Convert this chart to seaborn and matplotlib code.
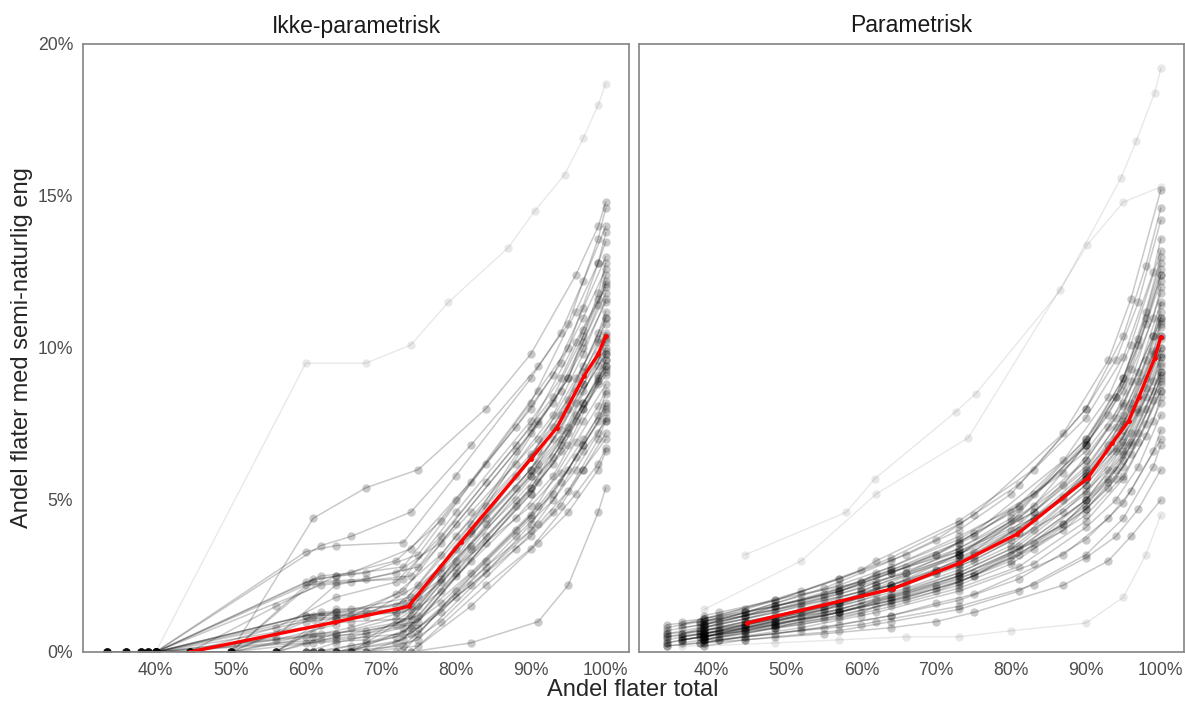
import numpy as np
import pandas as pd
import matplotlib
matplotlib.use('Agg')
import matplotlib.pyplot as plt
from matplotlib.ticker import PercentFormatter
import seaborn as sns

# --- Ikke-parametrisk: simulerte kurver (x = andel flater total, y = andel semi-naturlig eng, i %)
ikke_x_a = [38, 40, 60, 64, 73, 80, 90, 94, 97, 100]
ikke_y_a = [[0, 0, 1.2, 1.3, 1.6, 3.8, 6.5, 7.8, 9.2, 10.5],
            [0, 0, 0, 0, 0.4, 2.5, 5.2, 6.6, 8.0, 9.4],
            [0, 0, 2.3, 2.5, 2.8, 5.0, 8.0, 9.5, 11.0, 12.6],
            [0, 0, 0.5, 0.6, 1.0, 3.0, 5.8, 7.0, 8.6, 9.8],
            [0, 0, 0, 0.3, 0.8, 2.8, 4.8, 5.9, 7.0, 8.1],
            [0, 0, 3.3, 3.5, 3.6, 5.8, 9.0, 10.5, 12.2, 14.0],
            [0, 0, 0, 0, 0.2, 1.8, 3.8, 4.8, 6.0, 7.0],
            [0, 0, 1.0, 1.1, 2.0, 4.2, 7.2, 8.6, 10.0, 11.5],
            [0, 0, 0, 0, 0, 2.0, 4.4, 5.6, 6.8, 7.9],
            [0, 0, 1.2, 1.3, 1.4, 3.4, 6.0, 7.3, 8.8, 10.0],
            [0, 0, 2.2, 2.3, 2.4, 4.6, 7.6, 9.0, 10.6, 12.0],
            [0, 0, 0.3, 0.4, 0.6, 2.6, 5.4, 6.8, 8.2, 9.2]]

ikke_x_b = [33.5, 40, 62, 66, 74, 82, 91, 95, 99, 100]
ikke_y_b = [[0, 0, 2.2, 2.3, 2.5, 4.6, 7.0, 8.3, 10.5, 11.2],
            [0, 0, 0, 0, 1.2, 3.5, 6.2, 7.4, 9.6, 10.3],
            [0, 0, 0.6, 0.8, 1.4, 4.0, 7.5, 9.0, 11.8, 12.8],
            [0, 0, 0, 0, 0, 1.5, 3.6, 4.6, 6.0, 6.6],
            [0, 0, 1.3, 1.4, 1.8, 3.9, 6.6, 8.0, 10.2, 11.0],
            [0, 0, 3.5, 3.8, 4.6, 6.8, 9.4, 10.8, 13.6, 14.6],
            [0, 0, 0, 0.2, 0.6, 2.2, 4.2, 5.3, 7.0, 7.6],
            [0, 0, 0.9, 1.0, 1.1, 3.4, 6.0, 7.2, 9.1, 9.8],
            [0, 0, 0, 0, 0, 0.3, 1.0, 2.2, 4.6, 5.4],
            [0, 0, 1.2, 1.2, 1.5, 4.2, 7.6, 9.0, 11.4, 12.2],
            [0, 0, 0, 0, 0.8, 3.0, 5.6, 6.8, 8.9, 9.6],
            [0, 0, 2.5, 2.6, 3.4, 5.6, 8.6, 10.0, 12.8, 13.8],
            [0, 0, 0.4, 0.5, 0.9, 2.6, 4.8, 6.0, 7.8, 8.5]]

ikke_x_c = [36, 44.5, 56, 64, 72, 78, 88, 93, 97, 100]
ikke_y_c = [[0, 0, 0, 1.4, 1.5, 2.8, 5.4, 7.0, 8.8, 10.2],
            [0, 0, 0.4, 0.9, 1.9, 3.2, 6.2, 7.8, 9.8, 11.6],
            [0, 0, 0, 0, 0, 1.0, 3.4, 4.6, 6.0, 7.2],
            [0, 0, 1.5, 2.5, 3.0, 4.3, 7.4, 9.1, 11.3, 13.0],
            [0, 0, 0, 0.5, 0.9, 2.0, 4.4, 5.8, 7.6, 8.8],
            [0, 0, 0, 1.1, 1.3, 2.6, 5.0, 6.4, 8.2, 9.4],
            [0, 0, 0.8, 1.8, 2.3, 3.8, 6.8, 8.4, 10.4, 12.1],
            [0, 0, 0, 0, 0.5, 1.6, 4.0, 5.2, 6.8, 8.0],
            [0, 0, 0, 1.2, 1.3, 2.4, 5.8, 7.4, 9.4, 11.0],
            [0, 0, 0, 0, 0.3, 1.3, 3.8, 5.0, 6.6, 7.6],
            [0, 0, 0.5, 2.2, 2.6, 3.6, 6.6, 8.2, 10.2, 11.8],
            [0, 0, 0, 0.6, 1.1, 2.3, 4.8, 6.2, 8.0, 9.1]]

ikke_x_d = [39, 50, 61, 68, 75, 84, 90, 96, 99, 100]
ikke_y_d = [[0, 0, 1.1, 1.2, 2.2, 4.8, 6.4, 9.0, 10.3, 10.8],
            [0, 0, 0, 0, 0.6, 3.0, 4.5, 6.9, 8.1, 8.6],
            [0, 0, 2.4, 2.6, 3.2, 6.2, 8.2, 11.2, 12.8, 13.5],
            [0, 0, 0.3, 0.4, 1.5, 4.2, 5.8, 8.2, 9.4, 9.9],
            [0, 0, 0, 0, 0.2, 2.2, 3.4, 5.2, 6.2, 6.7],
            [0, 0, 4.4, 5.4, 6.0, 8.0, 9.8, 12.4, 14.0, 14.8],
            [0, 0, 0.6, 0.7, 1.0, 3.6, 5.2, 7.6, 8.8, 9.3],
            [0, 0, 0, 0.3, 0.8, 2.8, 4.0, 6.0, 7.2, 7.7],
            [0, 0, 1.2, 1.3, 1.8, 4.4, 6.0, 8.6, 9.8, 10.4],
            [0, 0, 0, 0, 0.4, 2.6, 4.2, 6.4, 7.6, 8.2],
            [0, 0, 2.3, 2.4, 2.8, 5.6, 7.4, 10.2, 11.6, 12.4],
            [0, 0, 0.5, 0.6, 1.2, 3.8, 5.4, 7.8, 9.0, 9.6]]

ikke_x_top = [40, 60, 68, 74, 79, 87, 90.5, 94.5, 97, 99, 100]
ikke_y_top = [[0, 9.5, 9.5, 10.1, 11.5, 13.3, 14.5, 15.7, 16.9, 18.0, 18.7]]

# --- Parametrisk: simulerte kurver
par_x_a = [39, 44.5, 48.5, 57, 64, 73, 81, 90, 95, 99, 100]
par_y_a = [[0.5, 0.8, 1.0, 1.4, 1.9, 2.6, 3.5, 5.2, 6.8, 8.9, 9.7],
           [0.8, 1.2, 1.5, 2.1, 2.7, 3.6, 4.7, 6.8, 8.6, 11.0, 12.0],
           [0.3, 0.5, 0.6, 0.9, 1.2, 1.7, 2.4, 3.7, 4.9, 6.6, 7.3],
           [1.0, 1.4, 1.7, 2.4, 3.1, 4.2, 5.5, 7.7, 9.7, 12.5, 13.6],
           [0.6, 0.9, 1.1, 1.6, 2.1, 2.9, 3.9, 5.8, 7.5, 9.8, 10.7],
           [0.4, 0.6, 0.8, 1.1, 1.5, 2.1, 2.8, 4.3, 5.7, 7.6, 8.4],
           [0.9, 1.3, 1.6, 2.2, 2.8, 3.8, 4.8, 6.6, 8.2, 10.4, 11.2],
           [0.2, 0.4, 0.5, 0.7, 1.0, 1.4, 2.0, 3.2, 4.4, 6.1, 6.8],
           [0.7, 1.0, 1.2, 1.7, 2.2, 3.0, 4.0, 5.9, 7.6, 9.9, 10.9],
           [0.5, 0.7, 0.9, 1.3, 1.8, 2.5, 3.4, 5.0, 6.6, 8.6, 9.4],
           [0.9, 1.2, 1.5, 2.0, 2.6, 3.4, 4.4, 6.3, 8.1, 10.4, 11.4],
           [0.4, 0.7, 0.9, 1.3, 1.7, 2.4, 3.2, 4.8, 6.3, 8.3, 9.1]]

par_x_b = [39, 41, 52, 60, 62, 73, 83, 90, 94, 97, 100]
par_y_b = [[0.5, 0.6, 1.1, 1.5, 1.7, 2.5, 3.6, 5.0, 6.0, 7.2, 9.0],
           [0.7, 0.8, 1.4, 2.0, 2.2, 3.2, 4.6, 6.3, 7.7, 9.2, 11.5],
           [1.1, 1.2, 2.0, 2.7, 3.0, 4.3, 6.0, 8.0, 9.6, 11.5, 14.2],
           [0.3, 0.4, 0.8, 1.2, 1.3, 2.0, 2.9, 4.1, 5.0, 6.1, 7.8],
           [0.8, 0.9, 1.5, 2.0, 2.2, 3.1, 4.3, 5.8, 7.0, 8.4, 10.4],
           [0.6, 0.7, 1.3, 1.9, 2.1, 3.2, 4.8, 6.8, 8.4, 10.3, 12.8],
           [0.4, 0.4, 0.7, 0.9, 1.0, 1.5, 2.2, 3.1, 3.8, 4.7, 6.0],
           [1.2, 1.3, 1.9, 2.3, 2.5, 3.3, 4.4, 5.7, 6.7, 7.9, 9.8],
           [0.6, 0.7, 1.2, 1.7, 1.9, 2.8, 4.0, 5.5, 6.6, 8.0, 10.0],
           [0.9, 1.0, 1.6, 2.1, 2.3, 3.3, 4.6, 6.1, 7.4, 8.9, 11.0],
           [0.4, 0.5, 0.9, 1.3, 1.5, 2.3, 3.4, 4.7, 5.7, 6.9, 8.6],
           [1.0, 1.1, 1.7, 2.3, 2.6, 3.7, 5.2, 7.0, 8.4, 10.1, 12.4]]

par_x_c = [34, 38.5, 44.5, 55, 64, 70, 75, 87, 93, 96, 100]
par_y_c = [[0.4, 0.6, 0.9, 1.4, 2.1, 2.6, 3.1, 5.1, 6.8, 8.2, 10.8],
           [0.5, 0.6, 0.8, 1.2, 1.7, 2.1, 2.5, 4.0, 5.4, 6.5, 8.6],
           [0.6, 0.8, 1.1, 1.8, 2.6, 3.2, 3.9, 6.3, 8.4, 10.1, 13.2],
           [0.3, 0.5, 0.8, 1.4, 2.1, 2.7, 3.3, 5.5, 7.4, 8.9, 11.8],
           [0.2, 0.3, 0.5, 0.8, 1.2, 1.6, 1.9, 3.2, 4.4, 5.3, 7.0],
           [0.9, 1.0, 1.2, 1.7, 2.2, 2.6, 3.0, 4.6, 6.0, 7.2, 9.5],
           [0.7, 0.9, 1.3, 2.1, 3.0, 3.7, 4.5, 7.2, 9.6, 11.6, 15.2],
           [0.2, 0.3, 0.4, 0.6, 0.8, 1.0, 1.3, 2.2, 3.0, 3.8, 5.0],
           [0.5, 0.7, 1.0, 1.5, 2.2, 2.7, 3.2, 5.0, 6.6, 8.0, 10.4],
           [0.3, 0.5, 0.7, 1.1, 1.6, 2.0, 2.5, 4.2, 5.7, 6.9, 9.2],
           [0.8, 1.0, 1.3, 1.9, 2.7, 3.2, 3.8, 5.9, 7.8, 9.3, 12.2],
           [0.6, 0.7, 0.9, 1.3, 1.8, 2.2, 2.6, 4.2, 5.6, 6.8, 8.9]]

par_x_d = [36, 39, 48.5, 57, 66, 73, 80, 90, 95, 98, 100]
par_y_d = [[0.5, 0.6, 1.0, 1.5, 2.1, 2.7, 3.5, 5.5, 7.1, 8.7, 10.0],
           [0.6, 0.8, 1.3, 1.9, 2.6, 3.4, 4.4, 6.8, 8.8, 10.8, 12.4],
           [0.4, 0.5, 0.8, 1.2, 1.7, 2.2, 2.9, 4.5, 5.8, 7.1, 8.2],
           [0.9, 1.1, 1.5, 2.0, 2.6, 3.2, 4.0, 6.0, 7.8, 9.6, 11.0],
           [0.3, 0.4, 0.8, 1.3, 1.9, 2.5, 3.2, 5.0, 6.5, 8.0, 9.2],
           [1.0, 1.1, 1.7, 2.4, 3.2, 4.0, 5.2, 8.0, 10.4, 12.7, 14.6],
           [0.4, 0.5, 1.0, 1.6, 2.4, 3.2, 4.3, 6.9, 9.0, 11.2, 13.0],
           [0.6, 0.7, 1.1, 1.6, 2.2, 2.9, 3.7, 5.7, 7.3, 9.0, 10.3],
           [0.4, 0.5, 0.9, 1.4, 2.0, 2.6, 3.4, 5.3, 6.9, 8.4, 9.7],
           [0.8, 0.9, 1.4, 2.0, 2.8, 3.6, 4.6, 7.0, 9.0, 11.0, 12.6],
           [0.5, 0.6, 0.9, 1.3, 1.8, 2.3, 3.0, 4.7, 6.1, 7.5, 8.8]]

# enkeltkurver som skiller seg ut (tegnes svakere)
par_x_low = [36, 39, 48.5, 57, 66, 73, 80, 90, 95, 98, 100]
par_y_low = [[0.2, 0.2, 0.3, 0.4, 0.5, 0.5, 0.7, 0.95, 1.8, 3.2, 4.5]]
par_x_top1 = [44.5, 58, 61.8, 72.6, 75.3, 86.6, 94.7, 96.7, 99.2, 100]
par_y_top1 = [[3.2, 4.6, 5.7, 7.9, 8.5, 11.9, 15.6, 16.8, 18.4, 19.2]]
par_x_top2 = [39, 52, 62, 74.3, 90.2, 95, 100]
par_y_top2 = [[1.4, 3.0, 5.2, 7.05, 13.4, 14.8, 15.3]]

# --- Gjennomsnitt (rød kurve)
mean_ikke_x = [44.5, 63.9, 73.7, 80.7, 90.0, 93.5, 97.1, 99.0, 100]
mean_ikke_y = [0.0, 0.98, 1.5, 3.63, 6.35, 7.38, 9.08, 9.8, 10.4]
mean_par_x = [44.7, 64.2, 73.1, 80.8, 90.25, 93.5, 95.7, 97.1, 99.2, 100]
mean_par_y = [0.95, 2.08, 2.92, 3.88, 5.72, 6.87, 7.6, 8.4, 9.67, 10.37]

panel_titles = ['Ikke-parametrisk', 'Parametrisk']
x_ticks = [40, 50, 60, 70, 80, 90, 100]
y_ticks = [0, 5, 10, 15, 20]


def build_lines(groups):
    rows = []
    line_id = 0
    for xs, ys_list in groups:
        for ys in ys_list:
            for x, y in zip(xs, ys):
                rows.append({'line': line_id, 'x': x, 'y': y})
            line_id += 1
    return pd.DataFrame(rows)


ikke_df = build_lines([(ikke_x_a, ikke_y_a), (ikke_x_b, ikke_y_b), (ikke_x_c, ikke_y_c),
                       (ikke_x_d, ikke_y_d)])
ikke_out = build_lines([(ikke_x_top, ikke_y_top)])
par_df = build_lines([(par_x_a, par_y_a), (par_x_b, par_y_b), (par_x_c, par_y_c),
                      (par_x_d, par_y_d)])
par_out = build_lines([(par_x_low, par_y_low), (par_x_top1, par_y_top1),
                       (par_x_top2, par_y_top2)])

sns.set_style('white')
plt.rcParams['font.family'] = ['Liberation Sans', 'DejaVu Sans']

W, H = 1185, 702
fig = plt.figure(figsize=(W / 100, H / 100), dpi=100)
ax1 = fig.add_axes([83 / W, 50 / H, (629 - 83) / W, 608 / H])
ax2 = fig.add_axes([639 / W, 50 / H, (1184 - 639) / W, 608 / H])

panels = [(ax1, ikke_df, ikke_out, mean_ikke_x, mean_ikke_y),
          (ax2, par_df, par_out, mean_par_x, mean_par_y)]
for i, (ax, df, out, mx, my) in enumerate(panels):
    sns.lineplot(data=out, x='x', y='y', units='line', estimator=None, color='black',
                 alpha=0.09, lw=1.0, marker='o', markersize=6, markeredgewidth=0,
                 legend=False, ax=ax)
    sns.lineplot(data=df, x='x', y='y', units='line', estimator=None, color='black',
                 alpha=0.21, lw=1.1, marker='o', markersize=6, markeredgewidth=0,
                 legend=False, ax=ax)
    sns.lineplot(x=mx, y=my, estimator=None, color='#FF0000', lw=2.4, marker='o',
                 markersize=3.5, markeredgewidth=0, ax=ax)
    ax.set_xlim(30.3, 103.1)
    ax.set_ylim(0, 20)
    ax.set_xticks(x_ticks)
    ax.set_yticks(y_ticks)
    ax.xaxis.set_major_formatter(PercentFormatter(xmax=100, decimals=0))
    ax.yaxis.set_major_formatter(PercentFormatter(xmax=100, decimals=0))
    ax.set_xlabel('')
    ax.set_ylabel('')
    ax.tick_params(axis='both', direction='out', length=4, width=1, color='#7F7F7F',
                   labelsize=12.7, labelcolor='#4D4D4D', pad=3)
    for s in ax.spines.values():
        s.set_color('#8C8C8C')
        s.set_linewidth(1.3)
    ax.text(0.5, 1 + 18 / 608, panel_titles[i], transform=ax.transAxes, ha='center',
            va='center', fontsize=16.5, color='#1A1A1A')

ax2.tick_params(axis='y', left=False, labelleft=False)

fig.text(633 / W, 1 - 690 / H, 'Andel flater total', ha='center', va='center', fontsize=17)
fig.text(22 / W, 1 - 348 / H, 'Andel flater med semi-naturlig eng', ha='center', va='center',
         rotation=90, fontsize=17)

fig.savefig('out.png', dpi=100)
